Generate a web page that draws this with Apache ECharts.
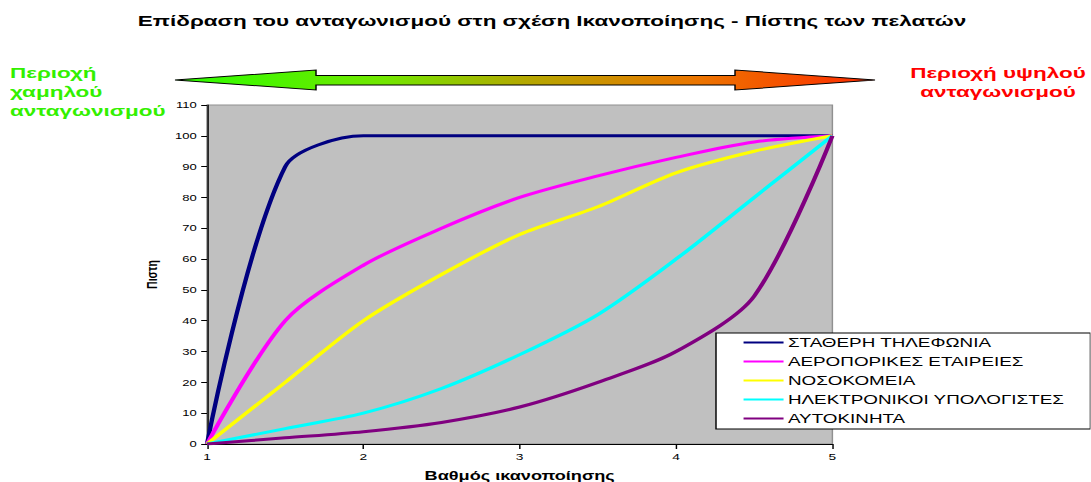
<!DOCTYPE html>
<html>
<head>
<meta charset="utf-8">
<script src="https://cdn.jsdelivr.net/npm/echarts@6/dist/echarts.min.js"></script>
<style>
html, body { margin: 0; padding: 0; background: #fff; overflow: hidden; }
#main { height: 482px; transform-origin: 0 0; }
</style>
</head>
<body>
<div id="main"></div>
<script>
// the picture is an excel chart pasted wide, so draw it narrow and widen it with css
var STRETCH = 1.45
var FONT = '"Liberation Sans", Arial, sans-serif'

var xValues = [1, 1.5, 2, 2.5, 3, 3.5, 4, 4.5, 5]
var seriesNames = ['ΣΤΑΘΕΡΗ ΤΗΛΕΦΩΝΙΑ', 'ΑΕΡΟΠΟΡΙΚΕΣ ΕΤΑΙΡΕΙΕΣ', 'ΝΟΣΟΚΟΜΕΙΑ', 'ΗΛΕΚΤΡΟΝΙΚΟΙ ΥΠΟΛΟΓΙΣΤΕΣ', 'ΑΥΤΟΚΙΝΗΤΑ']
var telephony = [0, 90, 100, 100, 100, 100, 100, 100, 100]
var airlines = [0, 40, 58, 70, 80, 87, 93, 98, 100]
var hospitals = [0, 20, 40, 55, 68, 77, 88, 95, 100]
var computers = [0, 5, 10, 18, 29, 42, 60, 80, 100]
var cars = [0, 2, 4, 7, 12, 20, 30, 48, 100]
var seriesValues = [telephony, airlines, hospitals, computers, cars]
var seriesColors = ['#000080', '#ff00ff', '#ffff00', '#00ffff', '#800080']

/** page pixels -> chart pixels (only x is squeezed) */
function px(x) {
  return x / STRETCH
}

var dom = document.getElementById('main')
dom.style.width = px(1091) + 'px'
dom.style.transform = 'scaleX(' + STRETCH + ')'
var chart = echarts.init(dom, null, { renderer: 'svg' })

var series = []
for (var i = 0; i < seriesNames.length; i++) {
  var points = []
  for (var j = 0; j < xValues.length; j++) {
    points.push([xValues[j], seriesValues[i][j]])
  }
  series.push({
    name: seriesNames[i],
    type: 'line',
    smooth: 0.3,
    symbol: 'none',
    data: points,
    lineStyle: { color: seriesColors[i], width: 3 },
    itemStyle: { color: seriesColors[i] }
  })
}

// double arrow from green to red
var arrowPoints = [
  [175, 80], [316, 70], [316, 75.5], [735, 75.5], [735, 70],
  [875, 80], [735, 90], [735, 85], [316, 85], [316, 90]
].map(function (p) { return [px(p[0]), p[1]] })

var option = {
  animation: false,
  textStyle: { fontFamily: FONT },
  title: {
    text: 'Επίδραση του ανταγωνισμού στη σχέση Ικανοποίησης - Πίστης των πελατών',
    left: px(552),
    textAlign: 'center',
    top: 13,
    padding: 0,
    textStyle: { fontFamily: FONT, fontSize: 15.5, fontWeight: 'bold', color: '#000' }
  },
  legend: {
    orient: 'vertical',
    left: px(716),
    top: 333,
    padding: [3, 18, 4, 18],
    itemWidth: px(40),
    itemHeight: 14,
    itemGap: 6,
    backgroundColor: '#fff',
    borderColor: '#000',
    borderWidth: 1,
    borderRadius: 0,
    itemStyle: { opacity: 0 },
    data: seriesNames,
    textStyle: { fontFamily: FONT, fontSize: 13, color: '#000', padding: [0, 0, 0, -2] }
  },
  grid: {
    show: true,
    outerBoundsMode: 'none',
    left: px(207),
    right: px(1091 - 833),
    top: 105,
    bottom: 38,
    backgroundColor: '#c0c0c0',
    borderColor: '#909090',
    borderWidth: 1
  },
  xAxis: {
    type: 'value',
    min: 1,
    max: 5,
    interval: 1,
    name: 'Βαθμός ικανοποίησης',
    nameLocation: 'middle',
    nameGap: 25,
    nameTextStyle: { fontFamily: FONT, fontSize: 12.5, fontWeight: 'bold', color: '#000' },
    axisLine: { lineStyle: { color: '#000', width: 1 } },
    axisTick: { show: true, length: 5, lineStyle: { color: '#000' } },
    axisLabel: { fontFamily: FONT, fontSize: 9.5, color: '#000', margin: 8 },
    splitLine: { show: false }
  },
  yAxis: {
    type: 'value',
    min: 0,
    max: 110,
    interval: 10,
    name: 'Πιστη',
    nameLocation: 'middle',
    nameGap: px(207 - 156) - 3,
    nameTextStyle: { fontFamily: FONT, fontSize: 10.5, fontWeight: 'bold', color: '#000' },
    axisLine: { show: true, lineStyle: { color: '#000', width: 1 } },
    axisTick: { show: true, length: 4, lineStyle: { color: '#000' } },
    axisLabel: { fontFamily: FONT, fontSize: 9, color: '#000', margin: 7 },
    splitLine: { show: false }
  },
  graphic: [
    {
      type: 'polygon',
      shape: { points: arrowPoints },
      style: {
        fill: new echarts.graphic.LinearGradient(0, 0, 1, 0, [
          { offset: 0, color: '#2cff00' },
          { offset: 0.3, color: '#72e600' },
          { offset: 0.5, color: '#b4a800' },
          { offset: 0.75, color: '#ec7400' },
          { offset: 1, color: '#ff2a00' }
        ]),
        stroke: '#000',
        lineWidth: 1
      }
    },
    {
      type: 'text',
      x: px(10),
      y: 63,
      style: {
        text: 'Περιοχή\nχαμηλού\nανταγωνισμού',
        fontFamily: FONT,
        fontSize: 15.5,
        fontWeight: 'bold',
        lineHeight: 19,
        fill: '#33f000',
        align: 'left',
        verticalAlign: 'top'
      }
    },
    {
      type: 'text',
      x: px(998),
      y: 63,
      style: {
        text: 'Περιοχή υψηλού\nανταγωνισμού',
        fontFamily: FONT,
        fontSize: 15.5,
        fontWeight: 'bold',
        lineHeight: 19,
        fill: '#ff0000',
        align: 'center',
        verticalAlign: 'top'
      }
    }
  ],
  series: series
}

chart.setOption(option)
</script>
</body>
</html>
